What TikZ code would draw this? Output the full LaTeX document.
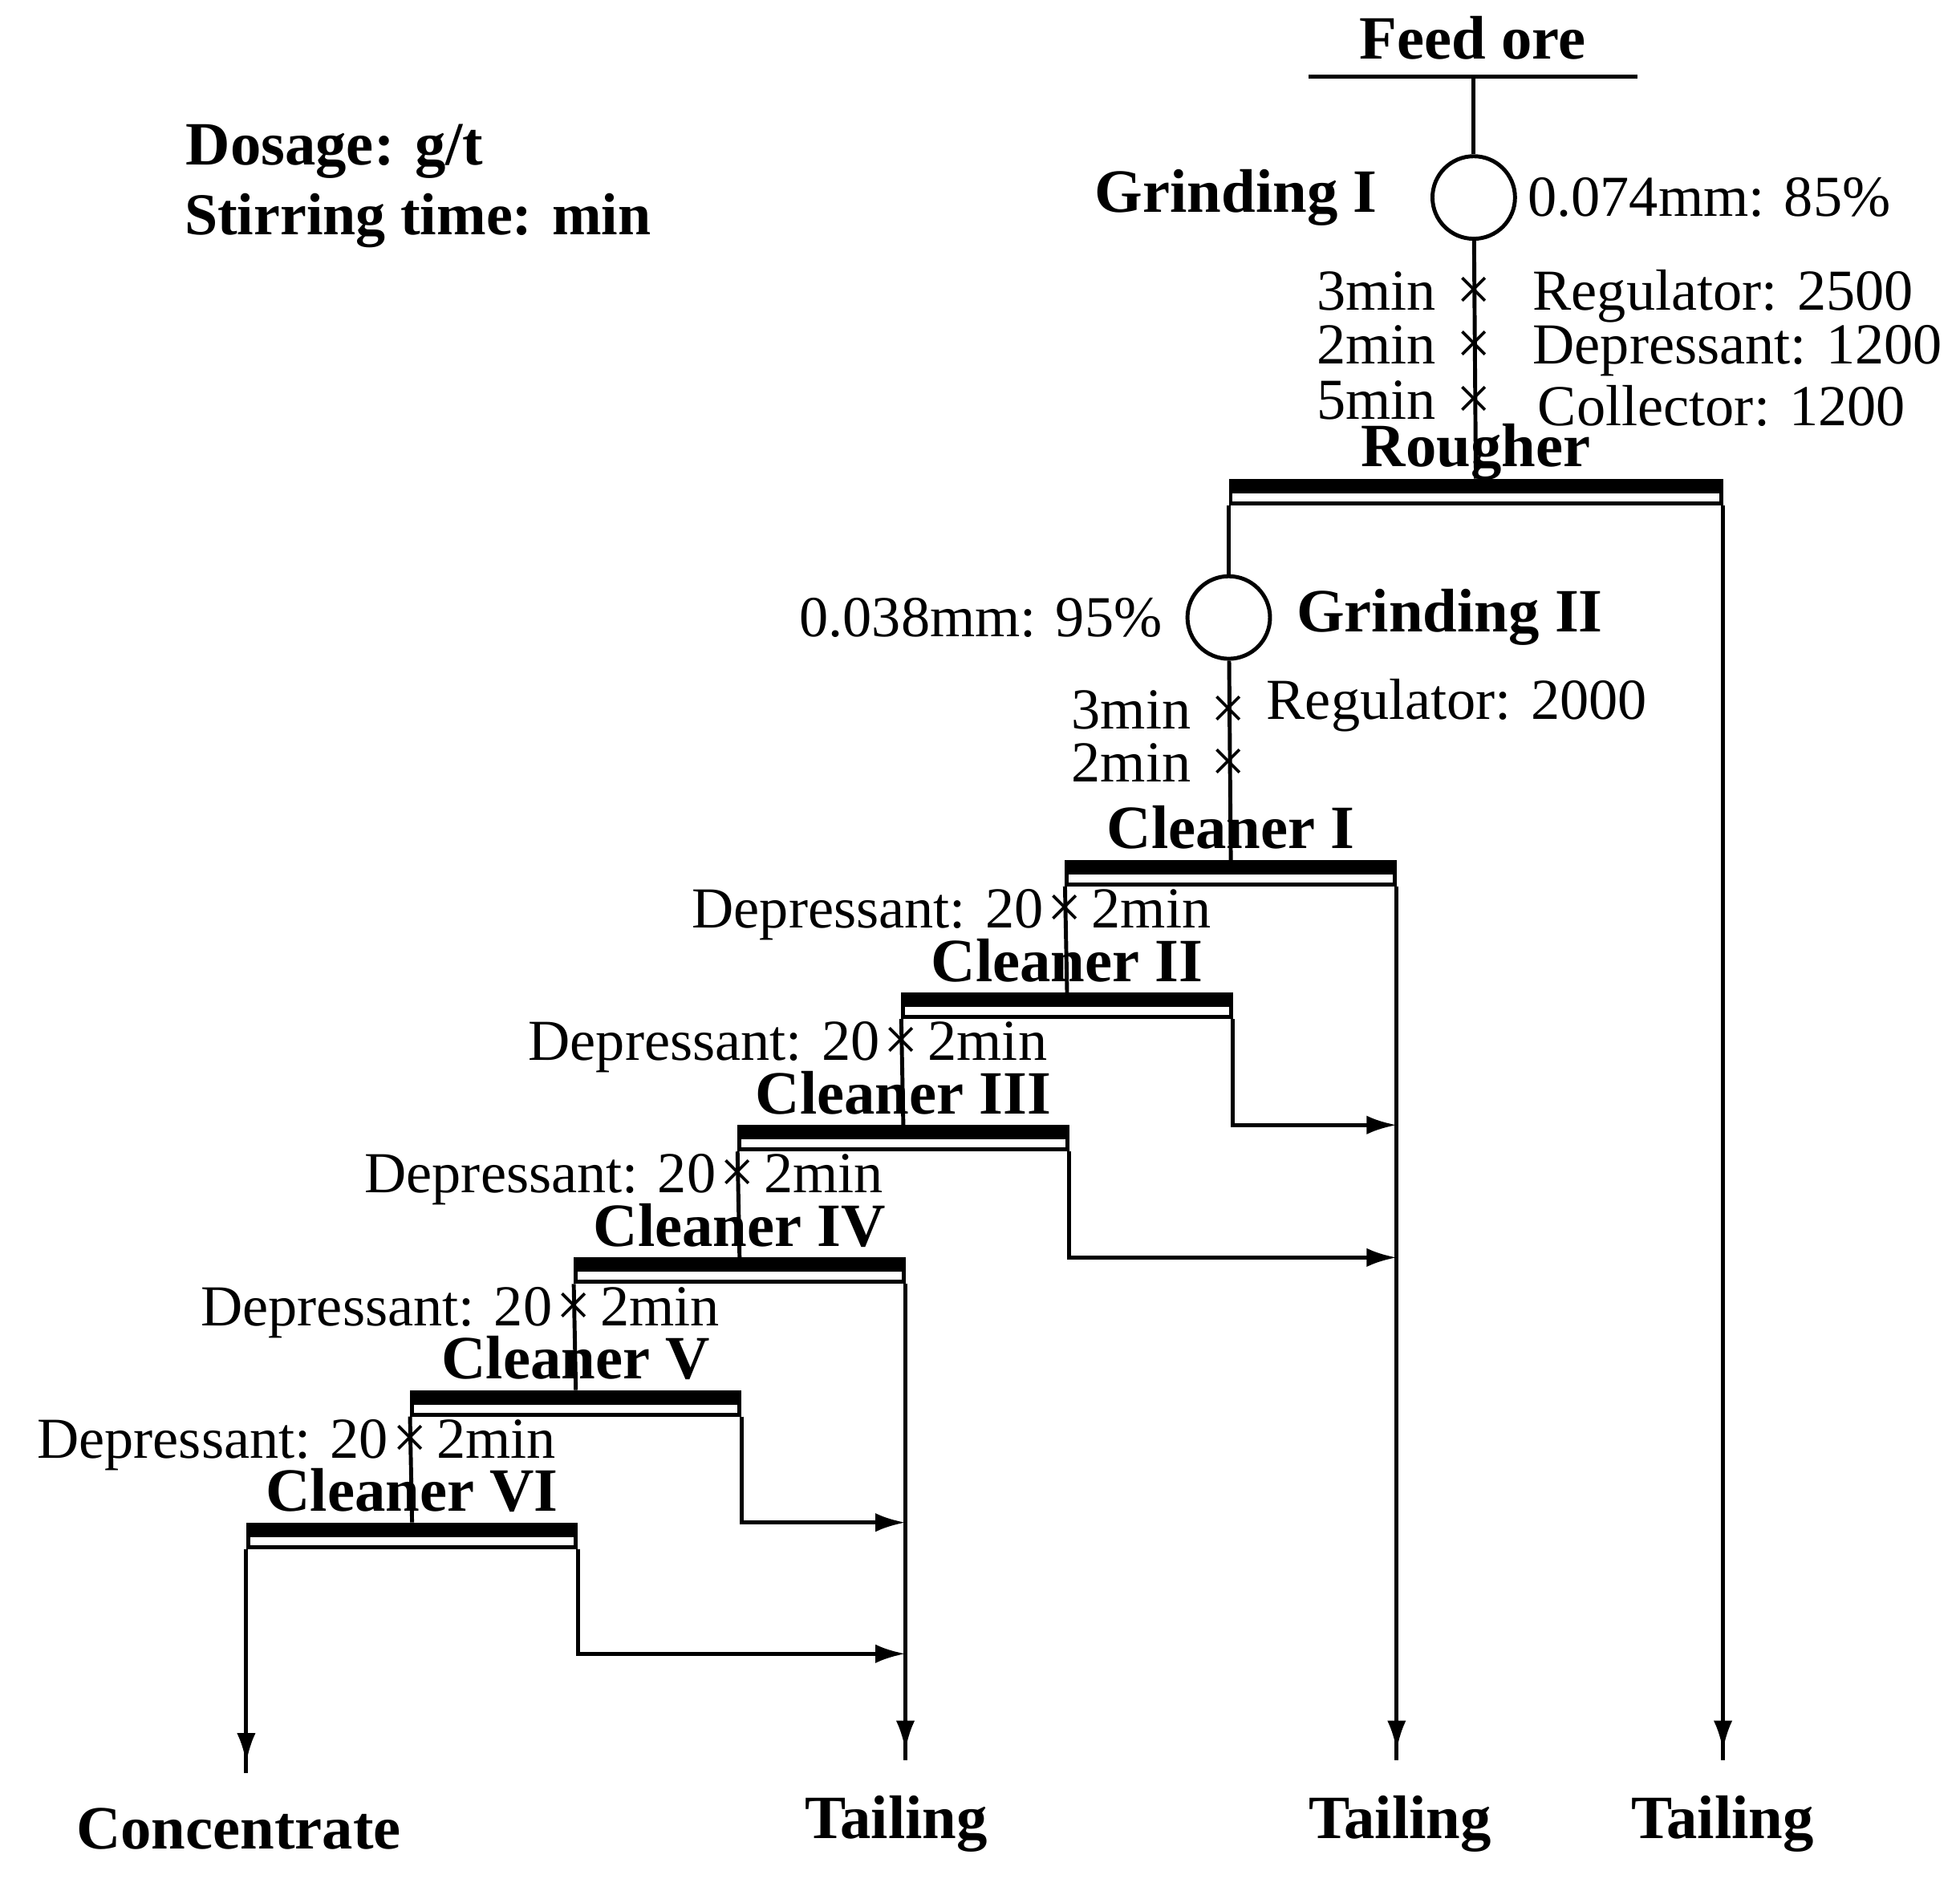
\documentclass[tikz,border=0pt]{standalone}
\usepackage{fontspec}
\setmainfont{Liberation Serif}
\usetikzlibrary{arrows.meta,positioning,calc,decorations.markings}
\tikzset{>={Latex[length=2.4mm,width=1.5mm]}}
\tikzstyle{flow}=[line width=0.9pt]
\tikzstyle{txt}=[font=\fontsize{13.2}{15}\selectfont, inner sep=0pt]
\tikzstyle{head}=[font=\fontsize{14}{16}\selectfont\bfseries, inner sep=0pt]
\tikzstyle{xmark}=[font=\fontsize{14}{16}\selectfont, inner sep=0pt]
\tikzstyle{mill}=[circle, draw, line width=0.9pt, minimum size=6.6mm, inner sep=0pt]
\tikzstyle{cellbar}=[
	rectangle, draw, line width=0.9pt,
	inner sep=0pt, minimum height=1.8mm,
	path picture={\fill (path picture bounding box.north west) rectangle ([yshift=-1mm]path picture bounding box.north east);}
    ]
\tikzstyle{outlet}=[head, outer ysep=2.8mm]
\tikzstyle{tip}=[postaction={decorate},
	decoration={markings, mark=at position -0.8mm with {\arrow{Latex[length=2.4mm,width=1.5mm]}}}]

\begin{document}
\begin{tikzpicture}[x=0.01cm,y=-0.01cm]
\useasboundingbox (0,0) rectangle (1568,1506);

\node[head,anchor=base west] (dose) at (148,132) {Dosage: g/t};
\node[head,anchor=base west] (stir) at (147,188) {\fontsize{13.5}{16}\selectfont Stirring time: min};

% feed and first grinding
\node[head,anchor=base] (feed) at (1178,47) {Feed ore};
\coordinate (fl) at (1047,61);
\coordinate (fr) at (1310,61);
\node[mill] (G1) at (1179,158) {};
\node[head,left=0.42cm of G1] (G1lab) {Grinding I};
\node[txt,right=0.08cm of G1] (G1size) {0.074mm: 85\%};

\node[xmark] (a1) at (1179,235) {×};
\node[xmark] (a2) at (1179,278) {×};
\node[xmark] (a3) at (1179,322) {×};
\node[txt,anchor=base east] (t1) at ([xshift=-0.15cm]a1.base west) {3min};
\node[txt,anchor=base east] (t2) at ([xshift=-0.15cm]a2.base west) {2min};
\node[txt,anchor=base east] (t3) at ([xshift=-0.15cm]a3.base west) {5min};
\node[txt,anchor=base west] (reg1) at ([xshift=0.32cm]a1.base east) {Regulator: 2500};
\node[txt,anchor=base west] (dep1) at ([xshift=0.32cm]a2.base east) {Depressant: 1200};
\node[txt,anchor=base west] (col1) at ([xshift=0.36cm,yshift=-0.05cm]a3.base east) {Collector: 1200};

\node[cellbar,minimum width=3.92cm,anchor=north west] (R) at (983,383) {};
\node[head,above=0.1cm of R,anchor=base] (Rlab) {Rougher};

% regrinding
\node[mill] (G2) at (983,494) {};
\node[txt,left=0.18cm of G2] (G2size) {0.038mm: 95\%};
\node[head,right=0.19cm of G2] (G2lab) {Grinding II};
\node[xmark] (b1) at (983,570) {×};
\node[xmark] (b2) at (983,612) {×};
\node[txt,anchor=base east] (t4) at ([xshift=-0.15cm]b1.base west) {3min};
\node[txt,anchor=base east] (t5) at ([xshift=-0.15cm]b2.base west) {2min};
\node[txt,anchor=base west] (reg2) at ([xshift=0.15cm,yshift=0.08cm]b1.base east) {Regulator: 2000};

% cleaners
\foreach \i/\r in {1/I,2/II,3/III,4/IV,5/V,6/VI} {
  \node[cellbar,minimum width=2.62cm,anchor=north west] (C\i) at ({852-131*(\i-1)},{688+106*(\i-1)}) {};
  \node[head,above=0.09cm of C\i,anchor=base] (C\i-lab) {Cleaner \r};
}

\node[outlet] (conc) at (191,1463) {Concentrate};
\node[outlet] (tail1) at (717,1459) {Tailing};
\node[outlet] (tail2) at (1120,1459) {Tailing};
\node[outlet] (tail3) at (1378,1459) {Tailing};

\draw[flow] (fl) -- (fr);
\draw[flow] (G1 |- fl) -- (G1);
\draw[flow] (G1) -- (R.north);
\draw[flow] (R.south west) -- (G2);
\draw[flow] (G2) -- (C1.north);
\draw[flow,tip] (R.south east) -- (R.south east |- tail3.north);

\foreach \i [count=\j from 2] in {1,...,5} {
  \draw[flow] (C\i.south west) -- (C\j.north);
  \node[xmark] (m\i) at ([yshift=-0.2cm]C\i.south west) {×};
  \node[txt,anchor=base east] (d\i) at ([xshift=-0.02cm]m\i.base west) {Depressant: 20};
  \node[txt,anchor=base west] (n\i) at ([xshift=0.06cm]m\i.base east) {2min};
}

\draw[flow,tip] (C1.south east) -- (C1.south east |- tail2.north);
\draw[flow,->] (C2.south east) |- (C3.north -| C1.east);
\draw[flow,->] (C3.south east) |- (C4.north -| C1.east);
\draw[flow,tip] (C4.south east) -- (C4.south east |- tail1.north);
\draw[flow,->] (C5.south east) |- (C6.north -| C4.east);
\draw[flow,->] (C6.south east) |- ($(C6.north -| C4.east)+(0,105)$);
\draw[flow,tip] (C6.south west) -- (C6.south west |- conc.north);

\end{tikzpicture}
\end{document}
